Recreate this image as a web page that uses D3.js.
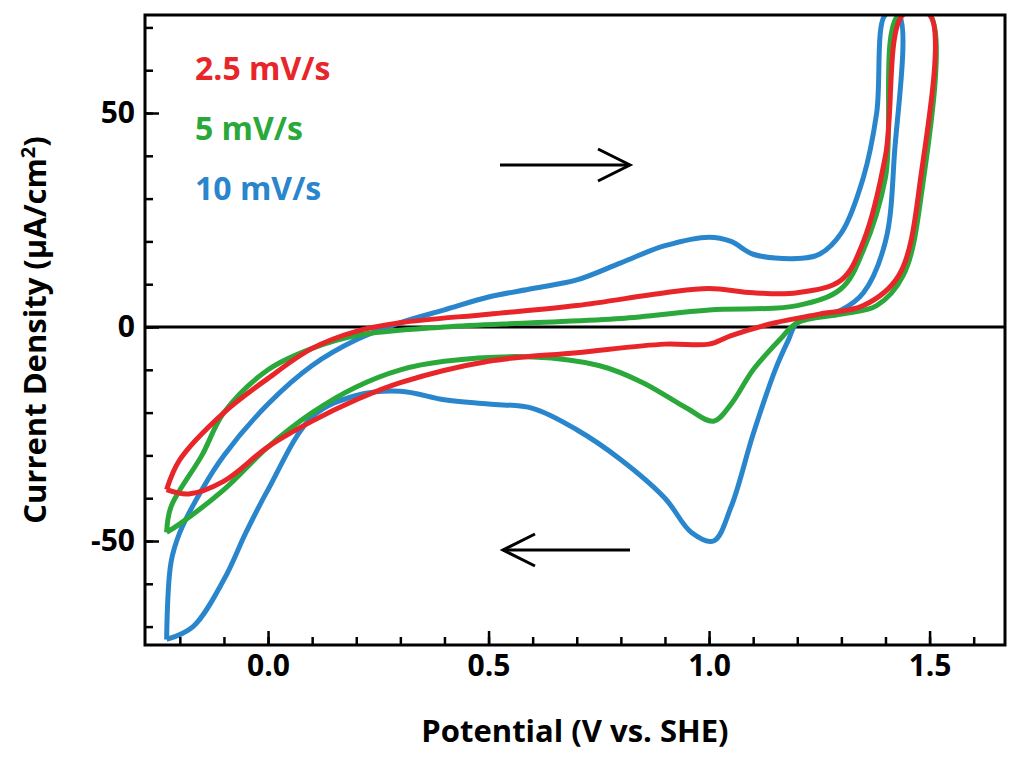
<!DOCTYPE html>
<html><head><meta charset="utf-8">
<script src="https://cdn.jsdelivr.net/npm/d3@7"></script>
<style>body{margin:0;background:#fff}text{font-family:"Open Sans",sans-serif;font-weight:bold}</style>
</head><body><svg id="c" width="1024" height="761"></svg>
<script>
const xTicks=[0.0,0.5,1.0,1.5];
const yTicks=[-50,0,50];
const seriesNames=["2.5 mV/s","5 mV/s","10 mV/s"];
const seriesColors=["#e8262a","#2aa83a","#2a86cc"];
const red=[[-0.23,-38],[-0.2,-31],[-0.1,-20],[0,-12],[0.1,-5],[0.2,-1],[0.3,1],[0.5,3],[0.7,5],[0.9,8],[1.0,9],[1.1,8],[1.2,8],[1.3,11],[1.35,20],[1.4,40],[1.44,73],
 [1.5,73],[1.48,35],[1.43,12],[1.35,5],[1.25,3],[1.15,1],[1.05,-2],[1.0,-4],[0.9,-4],[0.7,-6],[0.5,-8],[0.3,-13],[0.2,-17],[0.1,-22],[0.0,-28],[-0.1,-36],[-0.18,-39],[-0.23,-38]];
const green=[[-0.23,-48],[-0.22,-42],[-0.15,-30],[-0.1,-20],[0,-10],[0.1,-5],[0.2,-2],[0.4,0],[0.6,1],[0.8,2],[1.0,4],[1.2,5],[1.3,9],[1.35,18],[1.4,35],[1.43,73],
 [1.5,73],[1.48,30],[1.44,12],[1.38,5],[1.3,3],[1.2,1],[1.16,-3],[1.1,-10],[1.05,-18],[1.01,-22],[0.95,-19],[0.85,-13],[0.75,-9],[0.6,-7],[0.4,-8],[0.3,-10],[0.2,-14],[0.1,-20],[0.0,-28],[-0.1,-38],[-0.2,-46],[-0.23,-48]];
const blue=[[-0.23,-73],[-0.22,-55],[-0.2,-48],[-0.15,-38],[-0.1,-30],[0.0,-18],[0.1,-9],[0.2,-3],[0.3,1],[0.4,4],[0.5,7],[0.6,9],[0.7,11],[0.8,15],[0.9,19],[1.0,21],[1.05,20],[1.1,17],[1.2,16],[1.25,17],[1.3,22],[1.35,35],[1.38,50],[1.4,73],
 [1.43,73],[1.42,40],[1.4,20],[1.35,8],[1.3,4],[1.2,1],[1.18,-3],[1.15,-10],[1.1,-25],[1.05,-42],[1.01,-50],[0.96,-48],[0.9,-40],[0.8,-31],[0.7,-24],[0.6,-19],[0.5,-18],[0.4,-17],[0.3,-15],[0.2,-16],[0.1,-21],[0.0,-38],[-0.05,-48],[-0.1,-59],[-0.17,-70],[-0.23,-73]];
const series=[red,green,blue];

const svg=d3.select("#c");
const L=145,R=1005,T=15,B=645;
const x=d3.scaleLinear().domain([-0.279,1.671]).range([L,R]);
const y=d3.scaleLinear().domain([-74.3,72.9]).range([B,T]);
svg.append("clipPath").attr("id","cp").append("rect").attr("x",L).attr("y",T).attr("width",R-L).attr("height",B-T);
const g=svg.append("g").attr("clip-path","url(#cp)");
g.append("line").attr("x1",L).attr("x2",R).attr("y1",y(0)).attr("y2",y(0)).attr("stroke","#000").attr("stroke-width",3);
const line=d3.line().x(d=>x(d[0])).y(d=>y(d[1])).curve(d3.curveCatmullRom);
[2,1,0].forEach(i=>{
 g.append("path").attr("d",line(series[i])).attr("fill","none").attr("stroke",seriesColors[i]).attr("stroke-width",5);
});
const xa=svg.append("g").attr("transform",`translate(0,${B})`).call(d3.axisBottom(x).tickValues(xTicks).tickFormat(d3.format(".1f")).tickSizeInner(-14).tickSizeOuter(0).tickPadding(10));
const xm=svg.append("g").attr("transform",`translate(0,${B})`).call(d3.axisBottom(x).tickValues(d3.range(-0.2,1.65,0.1)).tickFormat("").tickSizeInner(-8).tickSizeOuter(0));
const ya=svg.append("g").attr("transform",`translate(${L},0)`).call(d3.axisLeft(y).tickValues(yTicks).tickFormat(d=>String(d)).tickSizeInner(-14).tickSizeOuter(0).tickPadding(10));
const ym=svg.append("g").attr("transform",`translate(${L},0)`).call(d3.axisLeft(y).tickValues(d3.range(-70,71,10)).tickFormat("").tickSizeInner(-8).tickSizeOuter(0));
[xa,xm,ya,ym].forEach(a=>{a.select(".domain").remove();a.selectAll("line").attr("stroke","#000").attr("stroke-width",2.5);a.selectAll("text").style("font-size","30px").attr("fill","#000");});
svg.append("rect").attr("x",L).attr("y",T).attr("width",R-L).attr("height",B-T).attr("fill","none").attr("stroke","#000").attr("stroke-width",3);
svg.append("text").attr("x",575).attr("y",742).attr("text-anchor","middle").style("font-size","31px").text("Potential (V vs. SHE)");
svg.append("text").attr("transform",`translate(46,${(T+B)/2}) rotate(-90)`).attr("text-anchor","middle").style("font-size","31px").html("Current Density (μA/cm<tspan dy='-11' style='font-size:20px'>2</tspan><tspan dy='11'>)</tspan>");
seriesNames.forEach((n,i)=>svg.append("text").attr("x",195).attr("y",80+i*60).style("font-size","32px").attr("fill",seriesColors[i]).text(n));
const arr=(x1,x2,yy)=>{svg.append("line").attr("x1",x1).attr("x2",x2).attr("y1",yy).attr("y2",yy).attr("stroke","#000").attr("stroke-width",3);
 const s=x2>x1?-1:1;svg.append("path").attr("d",`M${x2+s*32},${yy-16}L${x2},${yy}L${x2+s*32},${yy+16}`).attr("fill","none").attr("stroke","#000").attr("stroke-width",3);};
arr(500,630,165);arr(630,503,550);
</script></body></html>
